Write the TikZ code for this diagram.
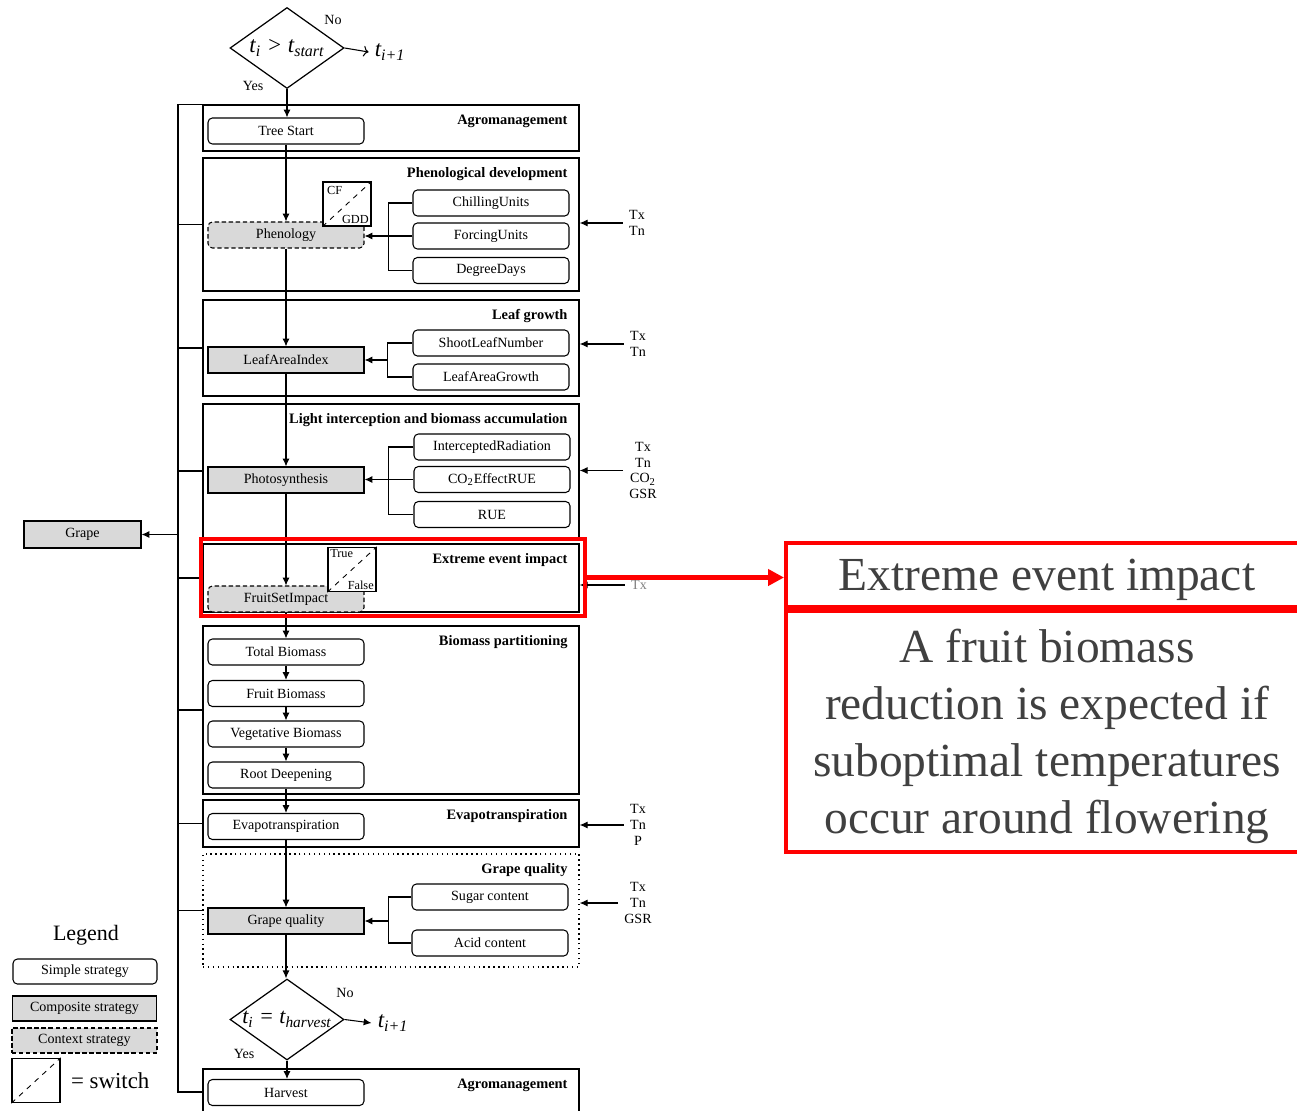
\documentclass[tikz,border=0pt]{standalone}
\usepackage{fontspec}
\setmainfont{Liberation Serif}
\usetikzlibrary{arrows.meta, positioning, calc, shapes.geometric}

\begin{document}
\begin{tikzpicture}[x=0.02cm, y=-0.02cm,
    every node/.style={font=\fontsize{8}{9}\selectfont},
    flow/.style={-{Latex[length=4.5pt,width=4pt]}, line width=0.6pt},
    simple/.style={draw, rounded corners=2.5pt, line width=0.6pt, minimum width=3.12cm, minimum height=0.52cm, inner sep=0pt},
    composite/.style={draw, fill=gray!30, line width=0.6pt, minimum width=3.12cm, minimum height=0.52cm, inner sep=0pt},
    context/.style={composite, rounded corners=2.5pt, dash pattern=on 2.5pt off 1.5pt},
    sect/.style={draw, line width=0.8pt, minimum width=7.52cm, inner sep=0pt},
    secttitle/.style={font=\fontsize{8.2}{10}\selectfont\bfseries},
    switchbox/.style={draw, fill=white, line width=0.8pt, minimum width=0.96cm, minimum height=0.88cm, inner sep=0pt},
    swlabel/.style={font=\fontsize{7}{8}\selectfont, inner sep=2.5pt},
    decision/.style={draw, diamond, line width=0.7pt, minimum width=2.28cm, minimum height=1.62cm, inner sep=0pt},
    bigit/.style={font=\fontsize{13}{15}\selectfont\itshape},
    inputs/.style={align=center, font=\fontsize{8}{9}\selectfont},
    hilite/.style={draw=red, line width=2.3pt, inner sep=0pt}]

  \useasboundingbox (0,0) rectangle (1297,1111);
  \clip (0,0) rectangle (1297,1111);

  % sections
  \node[sect, minimum height=0.92cm] (secAgro) at (391,128) {};
  \node[sect, minimum height=2.66cm] (secPheno) at (391,224.5) {};
  \node[sect, minimum height=1.92cm] (secLeaf) at (391,348) {};
  \node[sect, minimum height=2.68cm] (secLight) at (391,471) {};
  \node[sect, minimum height=1.36cm] (secExtreme) at (391,578) {};
  \node[sect, minimum height=3.36cm] (secBiomass) at (391,710) {};
  \node[sect, minimum height=0.94cm] (secEvapo) at (391,823.5) {};
  \node[sect, minimum height=2.26cm, dotted] (secQuality) at (391,910.5) {};
  \node[sect, minimum height=0.92cm] (secHarvest) at (391,1092) {};

  \foreach \s/\t in {secAgro/Agromanagement, secPheno/Phenological development,
      secLeaf/Leaf growth, secLight/Light interception and biomass accumulation,
      secExtreme/Extreme event impact, secBiomass/Biomass partitioning,
      secEvapo/Evapotranspiration, secQuality/Grape quality, secHarvest/Agromanagement}{
    \node[secttitle, anchor=north east] at ([shift={(-6,4)}]\s.north east) {\t};
  }

  % decisions
  \node[decision, label={[bigit]center:{t\textsubscript{i} > t\textsubscript{start}}}] (startTest) at (287,48) {};
  \node[bigit] (nextA) at (390,52) {t\textsubscript{i+1}};
  \node (noA) at (333,20) {No};
  \node (yesA) at (253,86) {Yes};
  \draw[->, line width=0.6pt] (startTest.east) -- (nextA.west);

  \node[decision, label={[bigit, font=\fontsize{12.5}{15}\selectfont\itshape]center:{t\textsubscript{i} = t\textsubscript{harvest}}}] (endTest) at (287,1019.5) {};
  \node[bigit] (nextB) at (393,1023) {t\textsubscript{i+1}};
  \node (noB) at (345,993) {No};
  \node (yesB) at (244,1054) {Yes};
  \draw[flow] (endTest.east) -- (nextB.west);

  % main column
  \node[simple] (treeStart) at (286,131) {Tree Start};
  \node[context] (phenology) at (286,235) {Phenology};
  \node[composite] (lai) at (286,360) {LeafAreaIndex};
  \node[composite] (photo) at (286,480) {Photosynthesis};
  \node[context] (fruitSet) at (286,599) {FruitSetImpact};
  \node[simple] (totalBio) at (286,652) {Total Biomass};
  \node[simple] (fruitBio) at (286,693.5) {Fruit Biomass};
  \node[simple] (vegBio) at (286,734) {Vegetative Biomass};
  \node[simple] (rootDeep) at (286,775) {Root Deepening};
  \node[simple] (evapo) at (286,826.5) {Evapotranspiration};
  \node[composite] (quality) at (286,921) {Grape quality};
  \node[simple] (harvest) at (286,1092.5) {Harvest};

  \draw[flow] (startTest.south) -- (startTest.south |- treeStart.north);
  \foreach \a/\b in {treeStart/phenology, phenology/lai, lai/photo, photo/fruitSet,
      fruitSet/totalBio, totalBio/fruitBio, fruitBio/vegBio, vegBio/rootDeep,
      rootDeep/evapo, evapo/quality}{
    \draw[flow] (\a.south) -- (\b.north);
  }
  \draw[flow] (quality.south) -- (quality.south |- endTest.north);
  \draw[flow] (endTest.south) -- (endTest.south |- harvest.north);

  % sub-models
  \node[simple] (chilling) at (491,203) {ChillingUnits};
  \node[simple] (forcing) at (491,236) {ForcingUnits};
  \node[simple] (degree) at (491,270.5) {DegreeDays};
  \node[simple] (shootLeaf) at (491,343) {ShootLeafNumber};
  \node[simple] (leafGrowth) at (491,377) {LeafAreaGrowth};
  \node[simple] (interRad) at (492,447) {InterceptedRadiation};
  \node[simple] (coRue) at (492,479.5) {CO\textsubscript{2}EffectRUE};
  \node[simple] (rue) at (492,514.5) {RUE};
  \node[simple] (sugar) at (490,897) {Sugar content};
  \node[simple] (acid) at (490,943) {Acid content};

  \draw[line width=0.6pt] (chilling.west) -- ++(-24,0) |- (degree.west);
  \draw[flow] (forcing.west) -- (forcing.west -| phenology.east);
  \draw[line width=0.6pt] (shootLeaf.west) -- ++(-25,0) coordinate (brLeaf) |- (leafGrowth.west);
  \draw[flow] (brLeaf |- lai) -- (lai.east);
  \draw[line width=0.6pt] (interRad.west) -- ++(-25,0) |- (rue.west);
  \draw[flow] (coRue.west) -- (coRue.west -| photo.east);
  \draw[line width=0.6pt] (sugar.west) -- ++(-23,0) coordinate (brQual) |- (acid.west);
  \draw[flow] (brQual |- quality) -- (quality.east);

  % switches
  \node[switchbox] (swPheno) at (347,204) {};
  \draw[dashed, line width=0.5pt] (swPheno.south west) -- (swPheno.north east);
  \node[swlabel, anchor=north west] at (swPheno.north west) {CF};
  \node[swlabel, anchor=south east, inner sep=1.5pt] at (swPheno.south east) {GDD};

  \node[switchbox] (swFruit) at (352,569.5) {};
  \draw[dashed, line width=0.5pt] (swFruit.south west) -- (swFruit.north east);
  \node[swlabel, anchor=north west, inner sep=1.5pt] at (swFruit.north west) {True};
  \node[swlabel, anchor=south east, inner sep=1.5pt] at (swFruit.south east) {False};

  % weather inputs
  \node[inputs] (inPheno) at (637,223) {Tx\\Tn};
  \node[inputs] (inLeaf) at (638,344) {Tx\\Tn};
  \node[inputs] (inLight) at (643,470.5) {Tx\\Tn\\CO\textsubscript{2}\\GSR};
  \node[inputs, text=gray] (inExtreme) at (639,585) {Tx};
  \node[inputs] (inEvapo) at (638,825) {Tx\\Tn\\P};
  \node[inputs] (inQuality) at (638,903) {Tx\\Tn\\GSR};
  \foreach \n/\s in {inPheno/secPheno, inLeaf/secLeaf, inLight/secLight, inExtreme/secExtreme,
      inEvapo/secEvapo, inQuality/secQuality}{
    \draw[flow] (\n.west) -- (\n.west -| \s.east);
  }

  % output spine
  \coordinate (spine) at (178,0);
  \node[composite, minimum width=2.34cm, minimum height=0.54cm] (grape) at (82.5,534.5) {Grape};
  \draw[line width=0.6pt] (secAgro.north west) -- (secAgro.north west -| spine)
    -- (secHarvest.west -| spine) -- (secHarvest.west);
  \foreach \s in {secPheno, secLeaf, secLight, secExtreme, secBiomass, secEvapo, secQuality}{
    \draw[line width=0.6pt] (\s.west -| spine) -- (\s.west);
  }
  \draw[flow] (grape.east -| spine) -- (grape.east);

  % legend
  \node[font=\fontsize{12.5}{14}\selectfont] (legTitle) at (86,935) {Legend};
  \node[simple, minimum width=2.88cm, minimum height=0.5cm] (legSimple) at (85,971.5) {Simple strategy};
  \node[composite, minimum width=2.88cm, minimum height=0.5cm] (legComposite) at (84.5,1008.5) {Composite strategy};
  \node[context, rounded corners=0pt, minimum width=2.9cm, minimum height=0.5cm] (legContext) at (84.5,1040.5) {Context strategy};
  \node[switchbox] (swLegend) at (36,1080.5) {};
  \draw[dashed, line width=0.5pt] (swLegend.south west) -- (swLegend.north east);
  \node[font=\fontsize{13}{15}\selectfont, right=2.4pt of swLegend] (legSwitch) {= switch};

  % highlight and callout
  \node[hilite, minimum width=7.68cm, minimum height=1.54cm] (hlBox) at (393,577.5) {};
  \node[hilite, minimum width=10.44cm, minimum height=1.28cm, text=black!75, text depth=0pt,
    font=\fontsize{27}{31}\selectfont] (callTitle) at (1047,575) {Extreme event impact};
  \node[hilite, anchor=north, minimum width=10.44cm, minimum height=4.82cm, text=black!75,
    text depth=0pt, align=center, font=\fontsize{27}{32.5}\selectfont] (callBody) at (callTitle.south)
    {A fruit biomass\\reduction is expected if\\suboptimal temperatures\\occur around flowering};
  \draw[red, line width=2.3pt, -{Triangle[length=9pt,width=9pt]}] (hlBox.east) -- (hlBox.east -| callTitle.west);

\end{tikzpicture}
\end{document}
